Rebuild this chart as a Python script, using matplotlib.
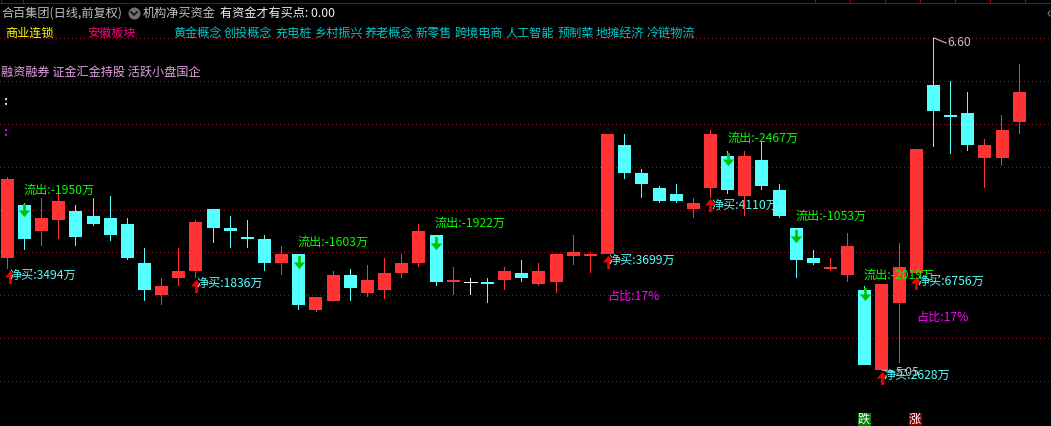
import matplotlib
matplotlib.use("Agg")
import matplotlib.pyplot as plt
from matplotlib.path import Path
from matplotlib.patches import Rectangle

plt.rcParams['font.family'] = ['Noto Sans CJK SC', 'DejaVu Sans']

W, H = 1051, 426
STEP = 17.15
X0 = 7.3

opens = [5.572,5.820,5.699,5.750,5.792,5.768,5.759,5.731,5.549,5.399,
         5.479,5.512,5.801,5.713,5.670,5.661,5.549,5.591,5.329,5.371,
         5.493,5.409,5.423,5.502,5.549,5.680,5.460,5.460,5.460,5.469,
         5.502,5.451,5.460,5.582,5.582,5.591,6.100,5.969,5.899,5.871,
         5.801,5.899,6.049,5.862,6.030,5.889,5.713,5.572,5.521,5.493,
         5.423,5.049,5.362,5.502,6.380,6.240,6.250,6.039,6.039,6.207]
closes = [5.941,5.661,5.759,5.838,5.670,5.731,5.680,5.572,5.423,5.441,
          5.512,5.740,5.713,5.699,5.661,5.549,5.591,5.353,5.390,5.493,
          5.432,5.469,5.502,5.549,5.699,5.460,5.469,5.460,5.451,5.512,
          5.479,5.512,5.591,5.600,5.591,6.151,5.969,5.917,5.838,5.838,
          5.829,6.151,5.889,6.049,5.908,5.768,5.563,5.549,5.530,5.628,
          5.073,5.451,5.530,6.081,6.259,6.231,6.100,6.100,6.170,6.347]
highs = [5.950,5.829,5.852,5.871,5.820,5.852,5.862,5.759,5.619,5.479,
         5.619,5.750,5.801,5.768,5.750,5.680,5.628,5.591,5.390,5.512,
         5.521,5.540,5.572,5.591,5.731,5.680,5.530,5.479,5.479,5.530,
         5.563,5.549,5.591,5.680,5.600,6.151,6.151,5.988,5.908,5.917,
         5.852,6.170,6.072,6.072,6.118,5.917,5.713,5.610,5.572,5.689,
         5.441,5.451,5.642,6.081,6.600,6.399,6.347,6.128,6.240,6.478]
lows = [5.521,5.610,5.628,5.661,5.628,5.722,5.651,5.563,5.371,5.353,
        5.441,5.479,5.642,5.619,5.619,5.512,5.493,5.329,5.320,5.371,
        5.371,5.390,5.381,5.479,5.530,5.441,5.399,5.399,5.362,5.423,
        5.460,5.441,5.409,5.540,5.502,5.591,5.941,5.852,5.829,5.829,
        5.759,5.852,5.871,5.768,5.889,5.759,5.479,5.540,5.512,5.460,
        5.073,5.049,5.082,5.502,6.091,6.058,6.072,5.899,6.002,6.151]

grid_levels = [6.600,6.399,6.198,5.998,5.798,5.599,5.398,5.199,5.000]
top_ticks = [1, 23, 815, 850, 885, 920, 955, 990, 1025]

outflow_idx = [1, 17, 25, 42, 46, 50]
outflow_txt = ["流出:-1950万","流出:-1603万","流出:-1922万","流出:-2467万","流出:-1053万","流出:-2019万"]
outflow_arrow_px = [210, 262, 243, 159, 236, 294]
buy_idx = [0, 11, 35, 41, 51, 53]
buy_txt = ["净买:3494万","净买:1836万","净买:3699万","净买:4110万","净买:2628万","净买:6756万"]
buy_arrow_px = [277, 285.5, 262, 205.5, 378, 283]
concepts = ["黄金概念","创投概念","充电桩","乡村振兴","养老概念","新零售","跨境电商","人工智能","预制菜","地摊经济","冷链物流"]
concept_px = [174,225,276,315,366,417,456,507,559,597,648]

RED, CYAN, WHITE = "#ff3333", "#54ffff", "#ffffff"

fig = plt.figure(figsize=(W/100, H/100), dpi=100, facecolor="black")
ax = fig.add_axes([0, 0, 1, 1], facecolor="black")
ax.set_xlim(-X0/STEP, (W-X0)/STEP)
ax.set_ylim(6.777-0.00467*H, 6.777)
ax.axis("off")

def pxy(y):
    return 6.777-0.00467*y
def pxx(x):
    return (x-X0)/STEP

def T(x, y, s, color, size=8.75, **kw):
    ax.text(pxx(x-1), pxy(y), s, color=color, fontsize=size, va="center", ha="left", zorder=10, **kw)

# grid
for lv in grid_levels:
    ax.plot([pxx(0), pxx(W)], [lv, lv], color="#8c1426", lw=0.72, ls=(0, (1, 3.0)),
            antialiased=False, zorder=1, dash_capstyle="butt")
ax.plot([pxx(0), pxx(W)], [pxy(3)]*2, color="#a00000", lw=0.72, antialiased=False, zorder=1)
for xt in top_ticks:
    ax.plot([pxx(xt)]*2, [pxy(0), pxy(3)], color="#b00000", lw=0.72, antialiased=False, zorder=1)

# candles
for i, (o, c, h, l) in enumerate(zip(opens, closes, highs, lows)):
    col = RED if c > o else (CYAN if c < o else WHITE)
    ax.bar(i, h-l, bottom=l, width=1/STEP, color=col, linewidth=0, antialiased=False, zorder=3)
    ax.bar(i, abs(c-o), bottom=min(o, c), width=13/STEP, color=col, linewidth=0,
           antialiased=False, zorder=4)
    if c == o:
        ax.plot([i-6.5/STEP, i+6.5/STEP], [o, o], color=col, lw=0.72, antialiased=False, zorder=4)

# arrows
s = 0.2
down = Path([(-.85,0),(-s,0),(-s,1),(s,1),(s,0),(.85,0),(0,-1),(-.85,0)], closed=True)
up = Path([(-.85,0),(-s,0),(-s,-1),(s,-1),(s,0),(.85,0),(0,1),(-.85,0)], closed=True)
for i, yp in zip(outflow_idx, outflow_arrow_px):
    ax.plot(i, pxy(yp), marker=down, ms=9.5, color="#00c000", mew=0, zorder=7)
for i, yp in zip(buy_idx, buy_arrow_px):
    x = i + (2.7/STEP if i == 0 else 0)
    ax.plot(x, pxy(yp), marker=up, ms=9.5, color="#f00000", mew=0, zorder=7)

# header
T(3, 13, "合百集团(日线,前复权)", "#c0c0c0")
ax.plot(pxx(134), pxy(13), marker="o", ms=8.6, color="#707070", mew=0, zorder=9)
ax.plot([pxx(131), pxx(134), pxx(137)], [pxy(12), pxy(15), pxy(12)], color="#101010", lw=1.2, zorder=10)
T(144, 13, "机构净买资金", "#c0c0c0")
T(221, 13, "有资金才有买点: 0.00", "#f0f0f0")
T(6, 33, "商业连锁", "#ffff00")
T(88, 33, "安徽板块", "#ff0080")
for x, t in zip(concept_px, concepts):
    T(x, 33, t, "#00c8c8")
T(2, 72, "融资融券 证金汇金持股 活跃小盘国企", "#e0a0e0")
T(4, 102, ":", "#ffffff", fontweight="bold")
T(4, 133, ":", "#ff00ff", fontweight="bold")
ax.plot([pxx(1050), pxx(1048), pxx(1050)], [pxy(11), pxy(13.5), pxy(16)], color="#808080", lw=0.8, zorder=8)

# signal text
for x, y, t in zip([24,298,436,728,796,865], [190,242,223,138,216,275], outflow_txt):
    T(x, y, t, "#00ff00")
for x, y, t in zip([10,197,609,712,884,918], [275,283,260,205,375,281], buy_txt):
    T(x, y, t, "#55ffff")
T(608, 296, "占比:17%", "#ff00ff")
T(917, 317, "占比:17%", "#ff00ff")

# extreme labels
T(948, 43, "6.60", "#c0c0c0")
T(897, 372, "5.05", "#c0c0c0")
ax.plot([pxx(934), pxx(946)], [pxy(38), pxy(43)], color="#c0c0c0", lw=0.8, zorder=8)
ax.plot([pxx(882), pxx(895)], [pxy(370), pxy(372)], color="#c0c0c0", lw=0.8, zorder=8)

# rise/fall tags
for x0, col, t in [(858, "#007a00", "跌"), (909, "#8a0000", "涨")]:
    ax.add_patch(Rectangle((pxx(x0), pxy(426)), 13/STEP, pxy(413)-pxy(426), color=col, lw=0, zorder=5))
    T(x0+1, 419.5, t, "#ffffff")

fig.savefig("out.png", dpi=100, facecolor="black")
